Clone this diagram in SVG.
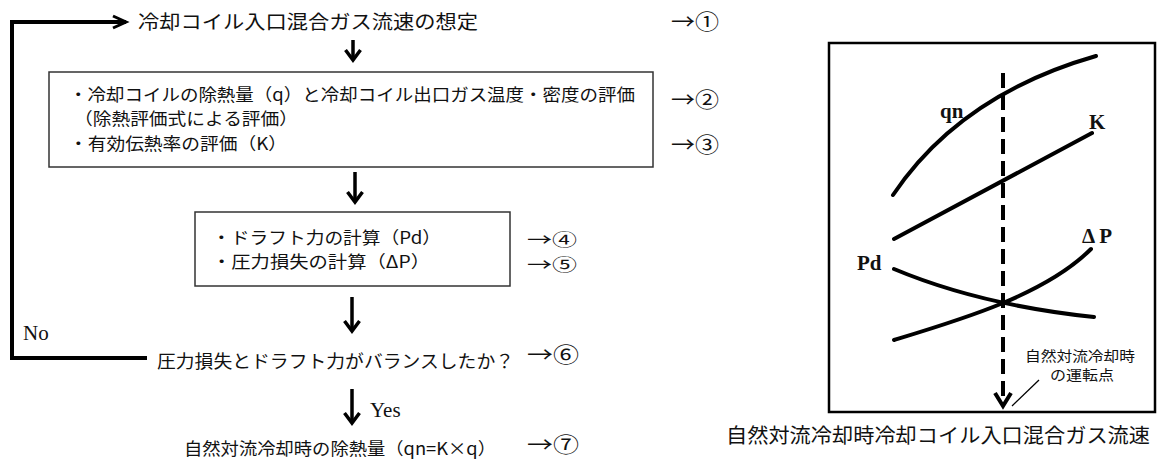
<svg xmlns="http://www.w3.org/2000/svg" width="1157" height="459" viewBox="0 0 1157 459">
<style>
.jp{font-family:"Noto Sans CJK JP","Noto Sans CJK SC",sans-serif;fill:#111;dominant-baseline:central}
.lat{font-family:"Liberation Serif",serif;fill:#111;dominant-baseline:central}
.latb{font-family:"Liberation Serif",serif;fill:#111;font-weight:bold;dominant-baseline:central}
.box{fill:#fff;stroke:#333;stroke-width:1.5}
.flow{fill:none;stroke:#000;stroke-width:4;stroke-linejoin:miter}
.arr{fill:none;stroke:#000;stroke-width:3.5}
.curve{fill:none;stroke:#000;stroke-width:4;stroke-linecap:round}
</style>
<defs>
<marker id="down" markerUnits="userSpaceOnUse" viewBox="-16 -10 20 20" refX="0" refY="0" markerWidth="20" markerHeight="20" orient="auto">
<path d="M-10,-7.5 L0,0 L-10,7.5" fill="none" stroke="#000" stroke-width="3.5"/>
</marker>
<marker id="open" markerUnits="userSpaceOnUse" viewBox="-18 -10 22 20" refX="0" refY="0" markerWidth="22" markerHeight="20" orient="auto">
<path d="M-13,-6 L0,0 L-13,6" fill="none" stroke="#000" stroke-width="3"/>
</marker>
<marker id="big" markerUnits="userSpaceOnUse" viewBox="-18 -12 22 24" refX="0" refY="0" markerWidth="22" markerHeight="24" orient="auto">
<path d="M-13,-8 L0,0 L-13,8" fill="none" stroke="#000" stroke-width="4"/>
</marker>
</defs>
<rect width="1157" height="459" fill="#fff"/>

<g id="connectors">
<path class="flow" d="M147,358 H12 V22 H126" marker-end="url(#open)"/>
<path class="arr" d="M353,40 V60" marker-end="url(#down)"/>
<path class="arr" d="M355,172 V202" marker-end="url(#down)"/>
<path class="arr" d="M352,297 V331" marker-end="url(#down)"/>
<path class="arr" d="M352,389 V423" marker-end="url(#down)"/>
</g>

<g id="n1">
<text class="jp" x="138" y="20" font-size="19" textLength="340" lengthAdjust="spacingAndGlyphs">冷却コイル入口混合ガス流速の想定</text>
<text class="jp" x="671" y="20" font-size="21" textLength="48" lengthAdjust="spacingAndGlyphs">→①</text>
</g>

<g id="n2">
<rect class="box" x="49" y="72" width="604" height="95"/>
<text class="jp" x="69" y="93" font-size="17" textLength="566" lengthAdjust="spacingAndGlyphs">・冷却コイルの除熱量（q）と冷却コイル出口ガス温度・密度の評価</text>
<text class="jp" x="74" y="117" font-size="17" textLength="224" lengthAdjust="spacingAndGlyphs">（除熱評価式による評価）</text>
<text class="jp" x="69" y="142" font-size="17" textLength="218" lengthAdjust="spacingAndGlyphs">・有効伝熱率の評価（K）</text>
<text class="jp" x="671" y="98" font-size="21" textLength="48" lengthAdjust="spacingAndGlyphs">→②</text>
<text class="jp" x="671" y="143" font-size="21" textLength="48" lengthAdjust="spacingAndGlyphs">→③</text>
</g>

<g id="n3">
<rect class="box" x="195" y="212" width="315" height="74"/>
<text class="jp" x="212" y="236" font-size="17" textLength="229" lengthAdjust="spacingAndGlyphs">・ドラフト力の計算（Pd）</text>
<text class="jp" x="212" y="260" font-size="17" textLength="218" lengthAdjust="spacingAndGlyphs">・圧力損失の計算（ΔP）</text>
<text class="jp" x="527" y="238" font-size="17" textLength="50" lengthAdjust="spacingAndGlyphs">→④</text>
<text class="jp" x="527" y="263" font-size="17" textLength="50" lengthAdjust="spacingAndGlyphs">→⑤</text>
</g>

<g id="n4">
<text class="lat" x="23" y="333" font-size="21">No</text>
<text class="jp" x="157" y="360" font-size="18" textLength="357" lengthAdjust="spacingAndGlyphs">圧力損失とドラフト力がバランスしたか？</text>
<text class="jp" x="527" y="353" font-size="21" textLength="52" lengthAdjust="spacingAndGlyphs">→⑥</text>
</g>

<g id="n5">
<text class="lat" x="370" y="410" font-size="21">Yes</text>
<text class="jp" x="184" y="447" font-size="17" textLength="312" lengthAdjust="spacingAndGlyphs">自然対流冷却時の除熱量（qn=K×q）</text>
<text class="jp" x="527" y="443" font-size="21" textLength="52" lengthAdjust="spacingAndGlyphs">→⑦</text>
</g>

<g id="chart">
<rect x="829" y="43" width="326" height="369" fill="none" stroke="#000" stroke-width="2.5"/>
<path d="M1003,73 V406" fill="none" stroke="#000" stroke-width="4" stroke-dasharray="15 7" marker-end="url(#big)"/>
<path class="curve" d="M893,195 Q960,95 1096,56"/>
<path class="curve" d="M894,239 L1092,133"/>
<path class="curve" d="M894,269 Q980,305 1094,317"/>
<path class="curve" d="M894,340 C960,320 1045,295 1091,249"/>
<text class="latb" x="940" y="111" font-size="21">qn</text>
<text class="latb" x="1089" y="122" font-size="21">K</text>
<text class="latb" x="1082" y="236" font-size="21">Δ P</text>
<text class="latb" x="857" y="263" font-size="21">Pd</text>
<path d="M1012,406 L1039,380" fill="none" stroke="#000" stroke-width="1.3"/>
<text class="jp" x="1025" y="355" font-size="14" textLength="110" lengthAdjust="spacingAndGlyphs">自然対流冷却時</text>
<text class="jp" x="1050" y="374" font-size="14" textLength="64" lengthAdjust="spacingAndGlyphs">の運転点</text>
<text class="jp" x="726" y="434" font-size="20" textLength="424" lengthAdjust="spacingAndGlyphs">自然対流冷却時冷却コイル入口混合ガス流速</text>
</g>
</svg>
